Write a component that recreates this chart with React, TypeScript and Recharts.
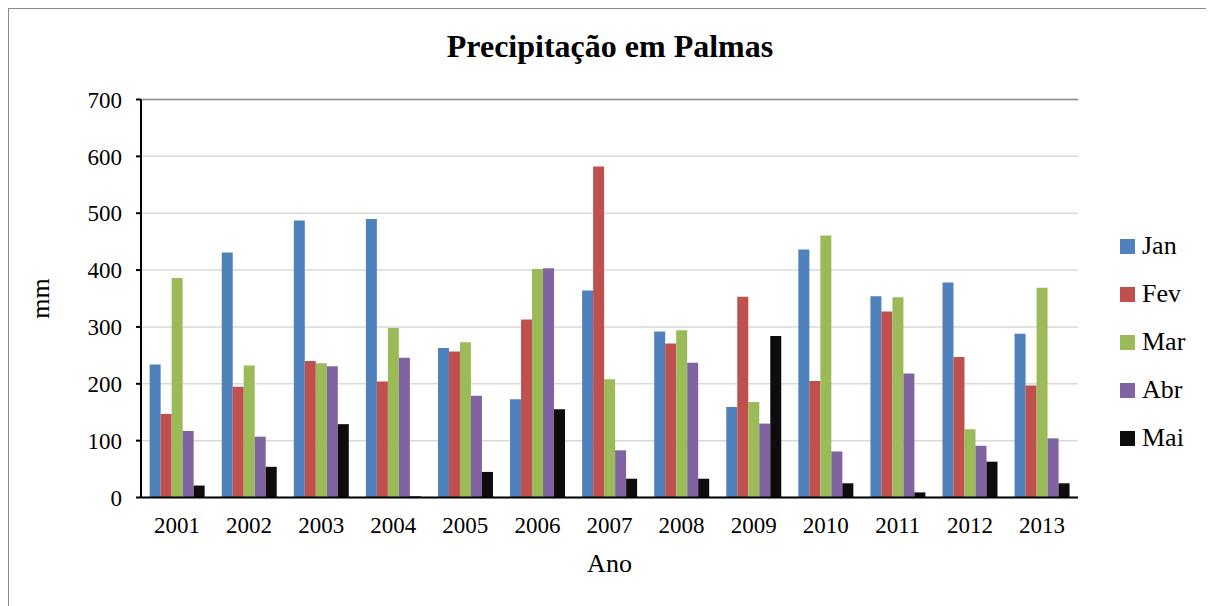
import React from 'react'
import { BarChart, Bar, XAxis, YAxis, CartesianGrid, Legend, Label, ReferenceLine } from 'recharts'

const years = ['2001', '2002', '2003', '2004', '2005', '2006', '2007', '2008', '2009', '2010', '2011', '2012', '2013']

const jan = [234, 431, 487, 490, 263, 173, 364, 292, 159, 436, 354, 378, 288]
const fev = [147, 195, 240, 204, 257, 313, 582, 271, 353, 205, 327, 247, 197]
const mar = [386, 232, 236, 298, 273, 402, 208, 294, 168, 461, 352, 120, 369]
const abr = [117, 107, 231, 246, 179, 403, 83, 237, 130, 81, 218, 91, 104]
const mai = [21, 54, 129, 2, 45, 155, 33, 33, 284, 25, 9, 63, 25]

const yTicks = [0, 100, 200, 300, 400, 500, 600, 700]

const series = [
  { key: 'Jan', values: jan, color: '#4F81BD' },
  { key: 'Fev', values: fev, color: '#C0504D' },
  { key: 'Mar', values: mar, color: '#9BBB59' },
  { key: 'Abr', values: abr, color: '#8064A2' },
  { key: 'Mai', values: mai, color: '#0D0D0D' },
]

const data = years.map((year, i) => {
  const row: Record<string, string | number> = { year }
  series.forEach(s => { row[s.key] = s.values[i] })
  return row
})

const font = '"Liberation Serif", "Times New Roman", serif'

// legend drawn as a vertical list, kept out of the offset calculation
const renderLegend = () => (
  <div style={{ fontFamily: font, fontSize: 26, color: '#000' }}>
    {series.map(s => (
      <div key={s.key} style={{ display: 'flex', alignItems: 'center', height: 48 }}>
        <span style={{ display: 'inline-block', width: 15, height: 15, background: s.color, marginRight: 7 }} />
        <span>{s.key}</span>
      </div>
    ))}
  </div>
)

export default function App() {
  return (
    <div style={{ position: 'relative', width: 1204, height: 600, border: '1px solid #898989', boxSizing: 'border-box', background: '#fff' }}>
      <div style={{ position: 'absolute', top: 19, left: 0, width: 1202, textAlign: 'center', fontFamily: font, fontWeight: 'bold', fontSize: 32, color: '#000' }}>
        Precipitação em Palmas
      </div>
      <BarChart
        width={1202}
        height={597}
        data={data}
        margin={{ top: 90.5, right: 133, bottom: 28.5, left: 72 }}
        barCategoryGap="12%"
        barGap={0}
      >
        <CartesianGrid horizontal vertical={false} stroke="#d9d9d9" strokeWidth={1.5} />
        <ReferenceLine y={700} stroke="#8c8c8c" strokeWidth={1.5} />
        <XAxis
          dataKey="year"
          height={80}
          tickLine={false}
          tickSize={0}
          tickMargin={19}
          axisLine={{ stroke: '#000', strokeWidth: 2 }}
          tick={{ fill: '#000', fontSize: 23, fontFamily: font }}
        >
          <Label value="Ano" position="insideBottom" offset={6} style={{ fill: '#000', fontSize: 26, fontFamily: font }} />
        </XAxis>
        <YAxis
          width={60}
          domain={[0, 700]}
          ticks={yTicks}
          interval={0}
          tickSize={5}
          tickMargin={14}
          tickLine={{ stroke: '#000', strokeWidth: 2 }}
          axisLine={{ stroke: '#000', strokeWidth: 2 }}
          tick={{ fill: '#000', fontSize: 23, fontFamily: font }}
        >
          <Label value="mm" angle={-90} position="insideLeft" offset={-41} style={{ fill: '#000', fontSize: 26, fontFamily: font, textAnchor: 'middle' }} />
        </YAxis>
        <YAxis yAxisId="r" orientation="right" width={0} tick={false} tickLine={false} axisLine={{ stroke: '#8c8c8c', strokeWidth: 1.5 }} />
        <Legend
          layout="horizontal"
          verticalAlign="middle"
          align="center"
          content={renderLegend}
          wrapperStyle={{ top: 213, left: 1111, width: 90 }}
        />
        {series.map(s => (
          <Bar key={s.key} dataKey={s.key} fill={s.color} isAnimationActive={false} />
        ))}
      </BarChart>
    </div>
  )
}
